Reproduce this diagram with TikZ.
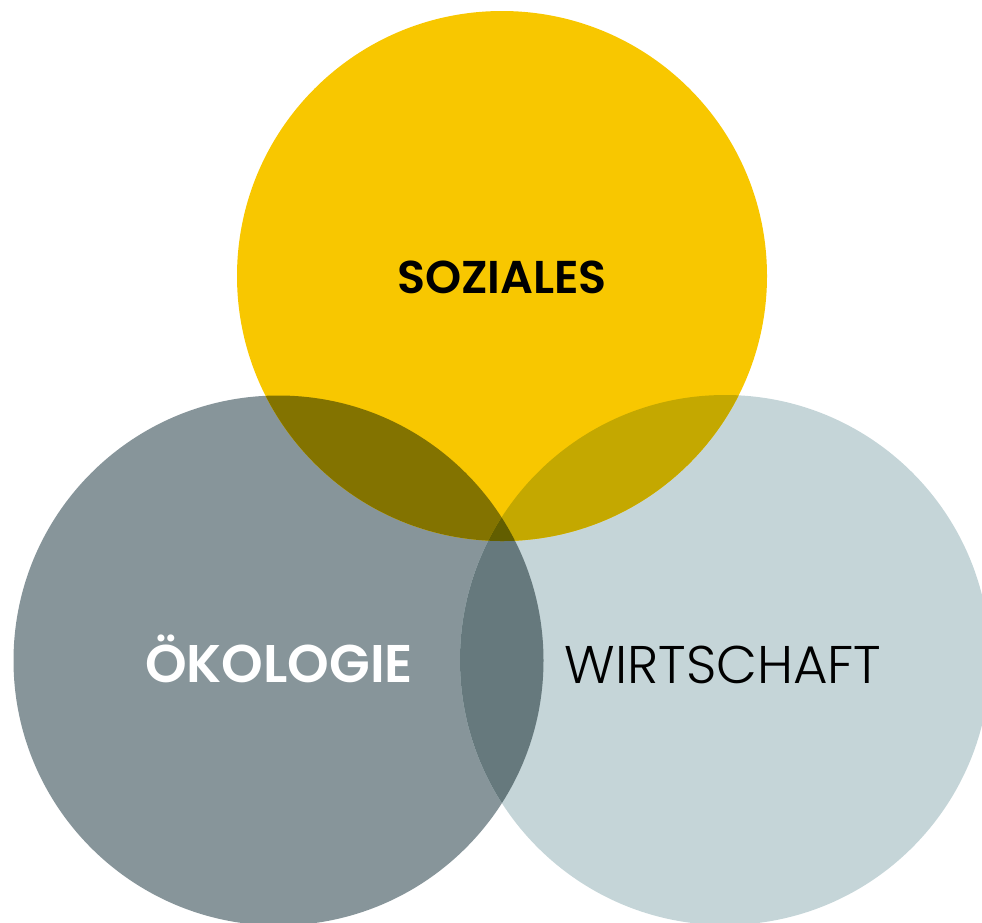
\documentclass[tikz,border=0pt]{standalone}
\usepackage{fontspec}
\setmainfont{Poppins}[BoldFont={Poppins SemiBold}]
\newfontfamily\thinfont{Poppins Light}
\definecolor{sozgelb}{HTML}{F8C700}
\definecolor{okograu}{HTML}{87959A}
\definecolor{wirtgrau}{HTML}{C5D5D8}
\definecolor{sozoko}{HTML}{837300}
\definecolor{sozwirt}{HTML}{C4A800}
\definecolor{okowirt}{HTML}{66797D}
\definecolor{alledrei}{HTML}{625E00}
\tikzset{
  label base/.style={anchor=base,inner sep=0pt},
}

\begin{document}
\begin{tikzpicture}[x=1pt,y=-1pt]
        %%% COORDINATES %%%
        \coordinate (soz) at (502,276);
        \coordinate (oko) at (278.5,660.5);
        \coordinate (wirt) at (725,660);
        \def\rad{265}
        \useasboundingbox (0,0) rectangle (982,922);
        \clip (0,0) rectangle (982,922);

        %%% CIRCLES %%%
        \fill[okograu] (oko) circle (\rad);
        \fill[wirtgrau] (wirt) circle (\rad);
        \fill[sozgelb] (soz) circle (\rad);

        %%% OVERLAPS %%%
        \begin{scope}
            \clip (oko) circle (\rad);
            \fill[okowirt] (wirt) circle (\rad);
        \end{scope}
        \begin{scope}
            \clip (soz) circle (\rad);
            \fill[sozoko] (oko) circle (\rad);
            \fill[sozwirt] (wirt) circle (\rad);
            \clip (oko) circle (\rad);
            \fill[alledrei] (wirt) circle (\rad);
        \end{scope}

        %%% LABELS %%%
        \node[label base,font=\bfseries\fontsize{46}{46}\selectfont] (sozlabel) at (502,293) {SOZIALES};
        \node[label base,text=white,font=\bfseries\fontsize{53}{53}\selectfont] (okolabel) at (279,682) {ÖKOLOGIE};
        \node[label base,font=\thinfont\fontsize{53}{53}\selectfont] (wirtlabel) at (723,683) {WIRTSCHAFT};
    \end{tikzpicture}
\end{document}
